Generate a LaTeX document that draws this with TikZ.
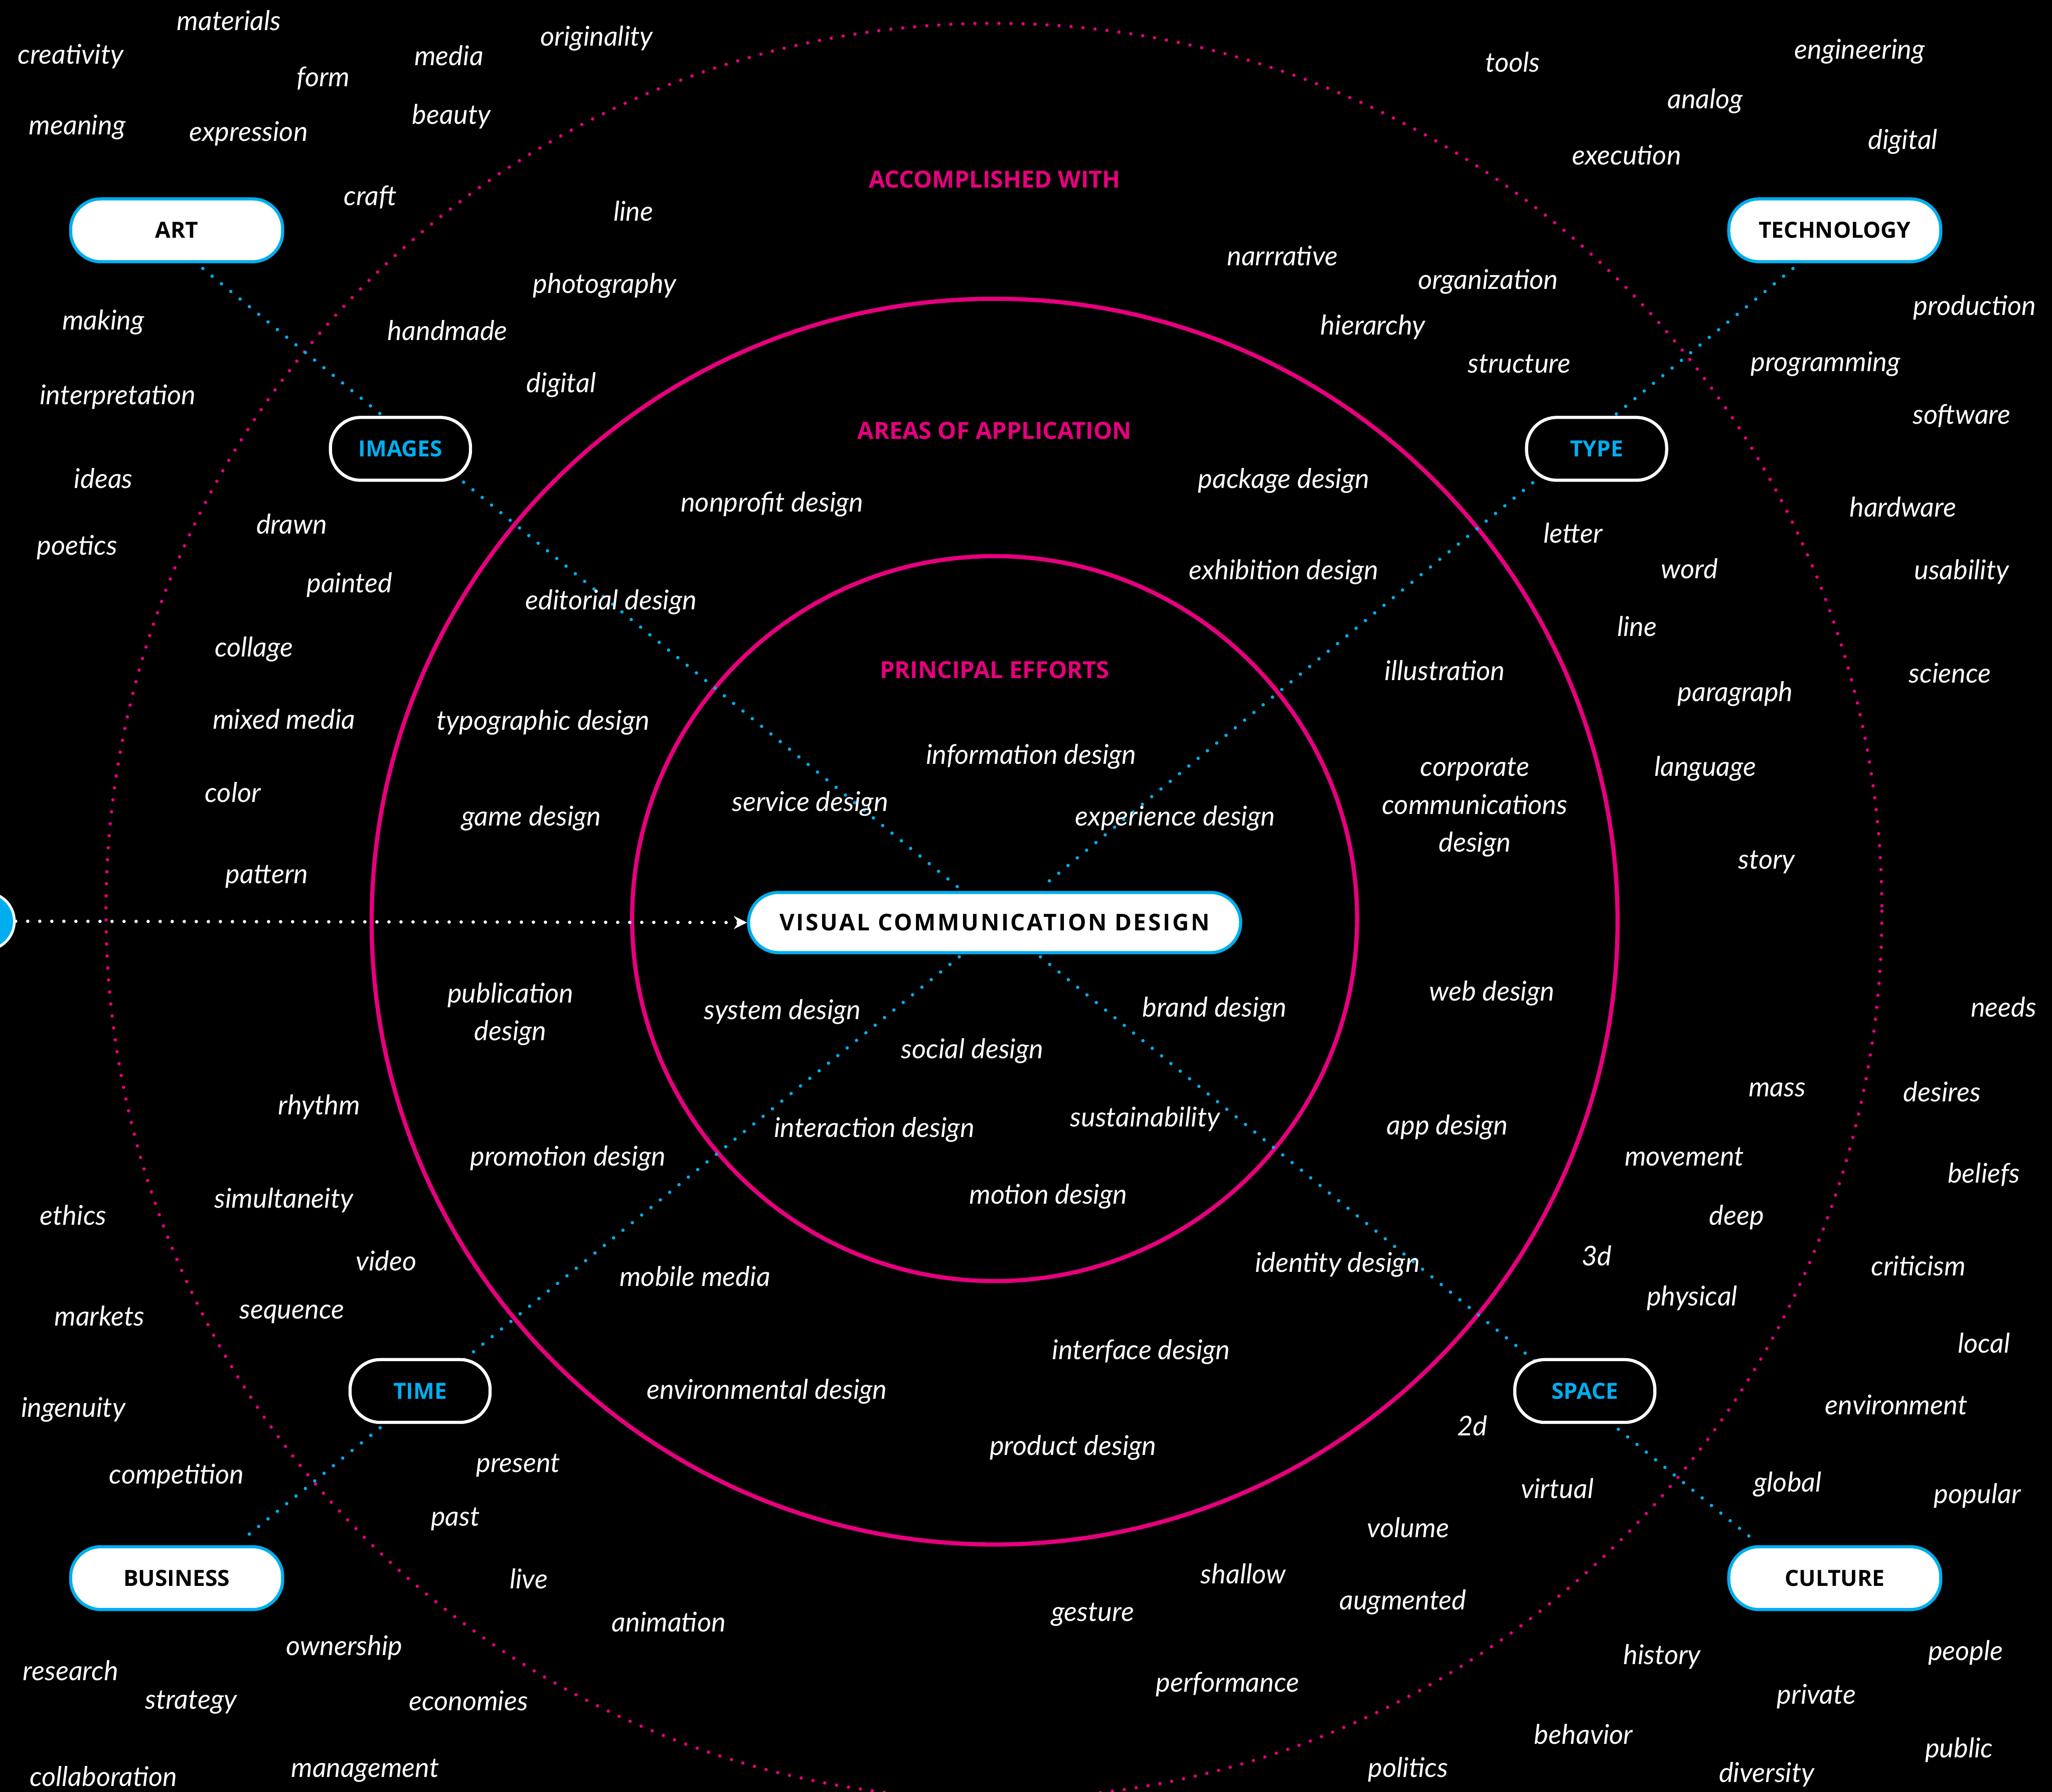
\documentclass[tikz,border=0pt]{standalone}
\usepackage{fontspec}
\usetikzlibrary{arrows.meta}
\newfontfamily\wordfont{Lato}
\newfontfamily\labfont{Open Sans}
\definecolor{vcmag}{RGB}{230,0,126}
\definecolor{vcblue}{RGB}{0,174,239}
\pgfdeclarelayer{bg}
\pgfdeclarelayer{lines}
\pgfsetlayers{bg,lines,main}
\begin{document}
\begin{tikzpicture}[x=0.5pt,y=-0.5pt,
  w/.style={text=white,font=\wordfont\itshape\fontsize{10.4}{14.5}\selectfont,inner sep=0pt,text height=8.5pt,text depth=1.5pt,align=center},
  wm/.style={text=white,font=\wordfont\itshape\fontsize{10.4}{14.5}\selectfont,inner sep=0pt,align=center},
  head/.style={text=vcmag,font=\labfont\bfseries\fontsize{9}{10}\selectfont,inner sep=0pt,text height=6.5pt,text depth=0pt},
  outerbox/.style={draw=vcblue,fill=white,line width=1.2pt,rounded corners=11.5pt,minimum width=81pt,minimum height=24pt,inner sep=0pt,text=black,font=\labfont\bfseries\fontsize{8.5}{10}\selectfont,text height=6pt,text depth=0pt},
  innerbox/.style={draw=white,fill=black,line width=1.2pt,rounded corners=11.5pt,minimum width=53.5pt,minimum height=24pt,inner sep=0pt,text=vcblue,font=\labfont\bfseries\fontsize{8.5}{10}\selectfont,text height=6pt,text depth=0pt},
  centerbox/.style={draw=vcblue,fill=white,line width=1.2pt,rounded corners=11.5pt,minimum width=188pt,minimum height=23pt,inner sep=0pt,text=black,font=\labfont\bfseries\fontsize{8.8}{10}\selectfont\addfontfeature{LetterSpace=8},text height=6pt,text depth=0pt},
  dotline/.style={line width=1.3pt,line cap=round,dash pattern=on 0pt off 4.6pt},
  ring/.style={draw=vcmag,line width=1.6pt},
]
\useasboundingbox (0,0) rectangle (1568,1369.45);
\begin{pgfonlayer}{bg}
\fill[black] (0,0) rectangle (1568,1369.45);
\draw[vcmag,dotline] (759.5,696.3) circle[radius=678.5];
\draw[ring] (760,704.3) circle[radius=476];
\draw[ring] (760,702) circle[radius=277];
\end{pgfonlayer}

% main nodes
\node[centerbox] (vcd) at (760,705) {VISUAL COMMUNICATION DESIGN};
\node[outerbox] (art) at (135,176) {ART};
\node[outerbox] (tech) at (1402,176) {TECHNOLOGY};
\node[outerbox] (bus) at (135,1206) {BUSINESS};
\node[outerbox] (cult) at (1402,1206) {CULTURE};
\node[innerbox] (img) at (306,343) {IMAGES};
\node[innerbox] (type) at (1220,343) {TYPE};
\node[innerbox] (time) at (321,1063) {TIME};
\node[innerbox] (space) at (1211,1063) {SPACE};
\node[circle,fill=vcblue,draw=white,line width=1pt,minimum size=22pt,inner sep=0pt] (src) at (-11,704) {};

% headings
\node[head] (h1) at (760,137) {ACCOMPLISHED WITH};
\node[head] (h2) at (760,329) {AREAS OF APPLICATION};
\node[head] (h3) at (760,512) {PRINCIPAL EFFORTS};

% connectors
\begin{pgfonlayer}{lines}
\draw[dotline,vcblue] ([xshift=10pt,yshift=-2pt]art.south) -- ([xshift=-13.5pt,yshift=1pt]vcd.north);
\draw[dotline,vcblue] ([xshift=-16pt,yshift=-2pt]tech.south) -- ([xshift=17.5pt,yshift=1pt]vcd.north);
\draw[dotline,vcblue] ([xshift=-13.5pt,yshift=-1pt]vcd.south) -- ([xshift=25pt,yshift=2pt]bus.north);
\draw[dotline,vcblue] ([xshift=17.5pt,yshift=-1pt]vcd.south) -- ([xshift=-31pt,yshift=2pt]cult.north);
\draw[dotline,white,-{Stealth[length=5pt,width=5pt]}] (src.east) -- (vcd.west);
\end{pgfonlayer}

% top-left words
\node[w] (tl1) at (175,16) {materials};
\node[w] (tl2) at (54,42) {creativity};
\node[w] (tl3) at (343,43) {media};
\node[w] (tl4) at (456,28) {originality};
\node[w] (tl5) at (247,59) {form};
\node[w] (tl6) at (59,96) {meaning};
\node[w] (tl7) at (190,101) {expression};
\node[w] (tl8) at (345,88) {beauty};
\node[w] (tl9) at (283,150) {craft};
\node[w] (tl10) at (484,162) {line};
\node[w] (tl11) at (462,217) {photography};
\node[w] (tl12) at (79,245) {making};
\node[w] (tl13) at (342,253) {handmade};
\node[w] (tl14) at (90,302) {interpretation};
\node[w] (tl15) at (429,293) {digital};
\node[w] (tl16) at (79,366) {ideas};
\node[w] (tl17) at (59,417) {poetics};
\node[w] (tl18) at (223,401) {drawn};
\node[w] (tl19) at (267,446) {painted};
\node[w] (tl20) at (194,495) {collage};
\node[w] (tl21) at (217,550) {mixed media};
\node[w] (tl22) at (178,606) {color};
\node[w] (tl23) at (204,668) {pattern};

% top-right words
\node[w] (tr1) at (1156,48) {tools};
\node[w] (tr2) at (1421,38) {engineering};
\node[w] (tr3) at (1303,76) {analog};
\node[w] (tr4) at (1454,107) {digital};
\node[w] (tr5) at (1243,119) {execution};
\node[w] (tr6) at (980,196) {narrrative};
\node[w] (tr7) at (1137,214) {organization};
\node[w] (tr8) at (1049,249) {hierarchy};
\node[w] (tr9) at (1161,278) {structure};
\node[w] (tr10) at (1509,234) {production};
\node[w] (tr11) at (1395,277) {programming};
\node[w] (tr12) at (1499,317) {software};
\node[w] (tr13) at (1454,388) {hardware};
\node[w] (tr14) at (1202,408) {letter};
\node[w] (tr15) at (1291,435) {word};
\node[w] (tr16) at (1499,436) {usability};
\node[w] (tr17) at (1251,479) {line};
\node[w] (tr18) at (1490,515) {science};
\node[w] (tr19) at (1326,529) {paragraph};
\node[w] (tr20) at (1303,586) {language};
\node[w] (tr21) at (1350,657) {story};

% areas of application
\node[w] (a1) at (590,384) {nonprofit design};
\node[w] (a2) at (981,366) {package design};
\node[w] (a3) at (981,436) {exhibition design};
\node[w] (a4) at (467,459) {editorial design};
\node[w] (a5) at (1104,513) {illustration};
\node[w] (a6) at (415,551) {typographic design};
\node[w] (a7) at (406,624) {game design};
\node[wm] (a8) at (1127,617) {corporate\\communications\\design};
\node[w] (a9) at (1140,758) {web design};
\node[wm] (a10) at (390,775) {publication\\design};
\node[w] (a11) at (434,884) {promotion design};
\node[w] (a12) at (1106,860) {app design};
\node[w] (a13) at (531,976) {mobile media};
\node[w] (a14) at (1022,965) {identity design};
\node[w] (a15) at (872,1032) {interface design};
\node[w] (a16) at (586,1062) {environmental design};
\node[w] (a17) at (820,1105) {product design};

% principal efforts
\node[w] (p1) at (788,577) {information design};
\node[w] (p2) at (619,613) {service design};
\node[w] (p3) at (898,624) {experience design};
\node[w] (p4) at (598,772) {system design};
\node[w] (p5) at (928,770) {brand design};
\node[w] (p6) at (743,802) {social design};
\node[w] (p7) at (668,862) {interaction design};
\node[w] (p8) at (875,854) {sustainability};
\node[w] (p9) at (801,913) {motion design};

% bottom-left words
\node[w] (bl1) at (244,845) {rhythm};
\node[w] (bl2) at (217,916) {simultaneity};
\node[w] (bl3) at (56,929) {ethics};
\node[w] (bl4) at (295,964) {video};
\node[w] (bl5) at (76,1006) {markets};
\node[w] (bl6) at (223,1001) {sequence};
\node[w] (bl7) at (56,1076) {ingenuity};
\node[w] (bl8) at (135,1127) {competition};
\node[w] (bl9) at (396,1118) {present};
\node[w] (bl10) at (348,1159) {past};
\node[w] (bl11) at (404,1207) {live};
\node[w] (bl12) at (511,1240) {animation};
\node[w] (bl13) at (263,1258) {ownership};
\node[w] (bl14) at (54,1277) {research};
\node[w] (bl15) at (146,1299) {strategy};
\node[w] (bl16) at (358,1300) {economies};
\node[w] (bl17) at (279,1351) {management};
\node[w] (bl18) at (79,1358) {collaboration};

% bottom-right words
\node[w] (br1) at (1531,770) {needs};
\node[w] (br2) at (1358,831) {mass};
\node[w] (br3) at (1484,835) {desires};
\node[w] (br4) at (1287,884) {movement};
\node[w] (br5) at (1516,897) {beliefs};
\node[w] (br6) at (1327,929) {deep};
\node[w] (br7) at (1220,960) {3d};
\node[w] (br8) at (1466,968) {criticism};
\node[w] (br9) at (1293,991) {physical};
\node[w] (br10) at (1516,1027) {local};
\node[w] (br11) at (1449,1074) {environment};
\node[w] (br12) at (1125,1090) {2d};
\node[w] (br13) at (1190,1138) {virtual};
\node[w] (br14) at (1366,1133) {global};
\node[w] (br15) at (1511,1142) {popular};
\node[w] (br16) at (1076,1168) {volume};
\node[w] (br17) at (950,1203) {shallow};
\node[w] (br18) at (1072,1223) {augmented};
\node[w] (br19) at (835,1232) {gesture};
\node[w] (br20) at (1502,1262) {people};
\node[w] (br21) at (1270,1265) {history};
\node[w] (br22) at (938,1286) {performance};
\node[w] (br23) at (1388,1295) {private};
\node[w] (br24) at (1497,1336) {public};
\node[w] (br25) at (1210,1326) {behavior};
\node[w] (br26) at (1076,1351) {politics};
\node[w] (br27) at (1350,1355) {diversity};
\end{tikzpicture}
\end{document}
